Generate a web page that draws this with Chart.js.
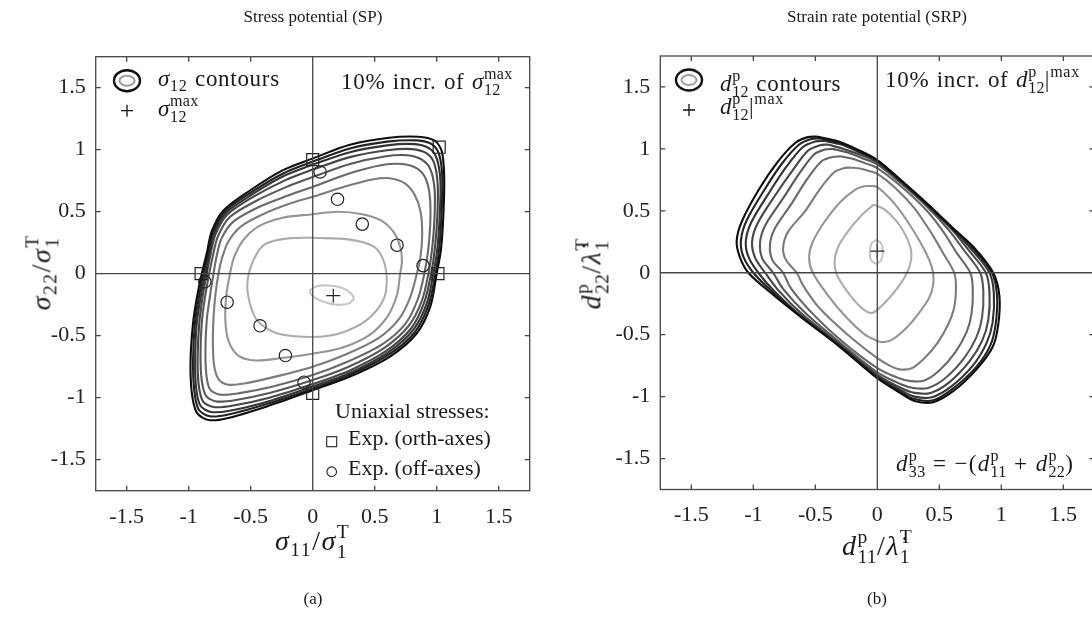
<!DOCTYPE html>
<html>
<head>
<meta charset="utf-8">
<script src="https://cdn.jsdelivr.net/npm/chart.js@4.4.1/dist/chart.umd.min.js"></script>
<style>
body { margin: 0; width: 1092px; height: 621px; overflow: hidden; background: #fff; position: relative;
       font-family: 'Liberation Serif', serif; color: #1a1a1a; }
canvas { position: absolute; top: 0; }
#spChart { left: 0; }
#srpChart { left: 546px; }
.t { position: absolute; white-space: nowrap; font-size: 22px; line-height: 1; }
.w { font-size: 23px; letter-spacing: 0.7px; word-spacing: 1px; }
.wide { letter-spacing: 1.3px; }
.ax { font-size: 28px; letter-spacing: 1.5px; }
.hd { position: absolute; white-space: nowrap; font-size: 17px; line-height: 1; transform: translateX(-50%); }
.c { transform: translateX(-50%); }
.rot { transform: translate(-50%, -50%) rotate(-90deg); }
.ss { display: inline-block; vertical-align: -0.4em; font-size: 0.7em; line-height: 1; letter-spacing: 0.3px; }
.ss span { display: block; }
.sb { font-size: 0.7em; vertical-align: -0.3em; line-height: 0; }
.sp { font-size: 0.7em; vertical-align: 0.6em; line-height: 0; }
.op { margin: 0 0.32em; }
</style>
</head>
<body>
<canvas id="spChart" width="546" height="621"></canvas>
<canvas id="srpChart" width="560" height="621"></canvas>

<div class="hd" style="left:313px;top:8px">Stress potential (SP)</div>
<div class="hd" style="left:877px;top:8px">Strain rate potential (SRP)</div>
<div class="hd" style="left:313px;top:590px">(a)</div>
<div class="hd" style="left:877px;top:590px">(b)</div>

<div class="t w" id="spLeg1" style="left:158px;top:67px"></div>
<div class="t w" id="spLeg2" style="left:158px;top:93px"></div>
<div class="t w" id="spIncr" style="left:341px;top:66px"></div>
<div class="t" style="left:335px;top:400px">Uniaxial stresses:</div>
<div class="t" style="left:348px;top:427px">Exp. (orth-axes)</div>
<div class="t" style="left:348px;top:457px">Exp. (off-axes)</div>
<div class="t ax c" id="spX" style="left:312px;top:522px"></div>
<div class="t ax rot" id="spY" style="left:42px;top:273px"></div>

<div class="t w" id="srpLeg1" style="left:720px;top:68px"></div>
<div class="t w" id="srpLeg2" style="left:720px;top:91px"></div>
<div class="t w" id="srpIncr" style="left:885px;top:64px"></div>
<div class="t w wide" id="srpNote" style="left:896px;top:448px"></div>
<div class="t ax c" id="srpX" style="left:877px;top:527px"></div>
<div class="t ax rot" id="srpY" style="left:592px;top:274px"></div>

<script>
// axis ticks shared by both panels
const tickVals = [-1.5, -1, -0.5, 0, 0.5, 1, 1.5];

// (a) stress potential: sigma12 contours, outer = 0 %, inner = 90 % of max
const spC0 = [[0,0.93],[0.3,1.04],[0.6,1.095],[0.85,1.105],[0.98,1.075],[1.04,0.99],[1.06,0.8],[1.055,0.5],[1.035,0.2],[1.0,0],[0.95,-0.26],[0.84,-0.48],[0.62,-0.67],[0.3,-0.83],[0,-0.94],[-0.37,-1.07],[-0.69,-1.165],[-0.84,-1.18],[-0.935,-1.12],[-0.975,-0.96],[-0.985,-0.7],[-0.965,-0.4],[-0.935,-0.2],[-0.895,0],[-0.855,0.16],[-0.815,0.34],[-0.72,0.51],[-0.5,0.675],[-0.24,0.835],[0,0.93]];
const spC1 = [[0,0.905],[0.3,1.01],[0.6,1.065],[0.84,1.075],[0.96,1.045],[1.02,0.96],[1.045,0.78],[1.04,0.5],[1.02,0.2],[0.99,0],[0.935,-0.25],[0.825,-0.47],[0.61,-0.655],[0.3,-0.815],[0,-0.927],[-0.37,-1.05],[-0.68,-1.135],[-0.83,-1.15],[-0.92,-1.095],[-0.955,-0.94],[-0.965,-0.7],[-0.95,-0.4],[-0.92,-0.2],[-0.882,0],[-0.845,0.16],[-0.805,0.335],[-0.71,0.5],[-0.49,0.66],[-0.235,0.81],[0,0.905]];
const spC2 = [[0,0.88],[0.3,0.98],[0.6,1.035],[0.82,1.045],[0.94,1.01],[1.0,0.93],[1.03,0.75],[1.025,0.48],[1.005,0.2],[0.973,0],[0.92,-0.24],[0.81,-0.455],[0.6,-0.64],[0.3,-0.8],[0,-0.91],[-0.36,-1.03],[-0.67,-1.105],[-0.82,-1.115],[-0.905,-1.065],[-0.94,-0.92],[-0.948,-0.7],[-0.935,-0.4],[-0.905,-0.2],[-0.868,0],[-0.835,0.155],[-0.795,0.325],[-0.7,0.49],[-0.48,0.645],[-0.23,0.79],[0,0.88]];
const spC3 = [[0,0.84],[0.3,0.94],[0.6,0.995],[0.8,1.005],[0.92,0.97],[0.98,0.89],[1.008,0.72],[1.005,0.46],[0.985,0.2],[0.955,0],[0.9,-0.23],[0.795,-0.44],[0.59,-0.625],[0.3,-0.78],[0,-0.89],[-0.35,-1.0],[-0.65,-1.065],[-0.8,-1.075],[-0.885,-1.03],[-0.92,-0.89],[-0.928,-0.68],[-0.915,-0.4],[-0.89,-0.2],[-0.855,0],[-0.825,0.15],[-0.785,0.315],[-0.69,0.475],[-0.47,0.625],[-0.22,0.755],[0,0.84]];
const spC4 = [[0,0.78],[0.3,0.885],[0.58,0.945],[0.76,0.955],[0.88,0.92],[0.95,0.84],[0.983,0.68],[0.982,0.44],[0.963,0.2],[0.933,0],[0.88,-0.22],[0.775,-0.42],[0.575,-0.6],[0.29,-0.75],[0,-0.858],[-0.34,-0.96],[-0.63,-1.02],[-0.78,-1.03],[-0.86,-0.985],[-0.895,-0.86],[-0.905,-0.66],[-0.895,-0.4],[-0.87,-0.2],[-0.835,0],[-0.805,0.145],[-0.765,0.3],[-0.67,0.455],[-0.45,0.59],[-0.21,0.7],[0,0.78]];
const spC5 = [[0,0.7],[0.3,0.81],[0.55,0.875],[0.72,0.885],[0.84,0.85],[0.91,0.77],[0.945,0.62],[0.948,0.4],[0.93,0.18],[0.9,0],[0.85,-0.2],[0.75,-0.4],[0.56,-0.57],[0.28,-0.71],[0,-0.817],[-0.32,-0.91],[-0.6,-0.965],[-0.75,-0.975],[-0.83,-0.93],[-0.858,-0.81],[-0.865,-0.62],[-0.855,-0.38],[-0.83,-0.19],[-0.8,0],[-0.775,0.14],[-0.735,0.285],[-0.64,0.42],[-0.43,0.54],[-0.2,0.63],[0,0.7]];
const spC6 = [[0,0.62],[0.25,0.7],[0.48,0.76],[0.62,0.77],[0.74,0.73],[0.82,0.64],[0.87,0.5],[0.883,0.32],[0.87,0.14],[0.84,0],[0.79,-0.18],[0.7,-0.36],[0.53,-0.52],[0.27,-0.65],[0,-0.75],[-0.3,-0.83],[-0.55,-0.885],[-0.68,-0.895],[-0.76,-0.85],[-0.795,-0.74],[-0.805,-0.56],[-0.8,-0.36],[-0.785,-0.17],[-0.76,0],[-0.73,0.13],[-0.68,0.26],[-0.58,0.38],[-0.4,0.48],[-0.2,0.56],[0,0.62]];
const spC7 = [[0,0.48],[0.2,0.5],[0.4,0.48],[0.55,0.43],[0.65,0.34],[0.705,0.22],[0.72,0.1],[0.705,0],[0.68,-0.17],[0.6,-0.35],[0.45,-0.5],[0.23,-0.6],[0,-0.645],[-0.25,-0.68],[-0.46,-0.7],[-0.6,-0.66],[-0.68,-0.54],[-0.705,-0.36],[-0.695,-0.16],[-0.667,0],[-0.635,0.13],[-0.56,0.27],[-0.44,0.38],[-0.25,0.45],[0,0.48]];
const spC8 = [[0,0.29],[0.3,0.275],[0.49,0.22],[0.57,0.11],[0.597,-0.05],[0.57,-0.21],[0.435,-0.374],[0.22,-0.48],[0,-0.51],[-0.29,-0.48],[-0.45,-0.374],[-0.519,-0.185],[-0.52,-0.02],[-0.45,0.164],[-0.37,0.245],[-0.2,0.285],[0,0.29]];
const spC9 = [[-0.027,-0.14],[0.02,-0.105],[0.12,-0.095],[0.24,-0.115],[0.31,-0.16],[0.33,-0.2],[0.29,-0.24],[0.19,-0.25],[0.07,-0.22],[0,-0.18],[-0.027,-0.14]];
const spOrth = [[0,0.92],[1.02,1.02],[-0.9,0],[1.01,0],[0,-0.965]];
const spOff = [[0.06,0.82],[0.2,0.6],[0.4,0.4],[0.68,0.23],[0.89,0.065],[-0.87,-0.065],[-0.69,-0.23],[-0.425,-0.42],[-0.22,-0.66],[-0.07,-0.875]];
const spMax = [[0.166,-0.177]];

// (b) strain rate potential: d12p contours, outer = 0 %, inner = 90 % of max
const srpC0 = [[-0.49,1.1],[-0.33,1.065],[-0.15,0.99],[0,0.91],[0.2,0.74],[0.4,0.56],[0.6,0.37],[0.774,0.21],[0.935,0],[0.985,-0.19],[0.975,-0.42],[0.93,-0.6],[0.8,-0.78],[0.62,-0.95],[0.45,-1.045],[0.3,-1.035],[0.2,-0.98],[0,-0.852],[-0.3,-0.6],[-0.62,-0.355],[-0.85,-0.17],[-1.04,0],[-1.11,0.13],[-1.134,0.26],[-1.09,0.42],[-0.95,0.68],[-0.8,0.9],[-0.66,1.05],[-0.56,1.095],[-0.49,1.1]];
const srpC1 = [[-0.46,1.085],[-0.31,1.05],[-0.15,0.98],[0,0.905],[0.2,0.735],[0.4,0.555],[0.6,0.365],[0.765,0.205],[0.925,0],[0.965,-0.18],[0.955,-0.41],[0.91,-0.59],[0.79,-0.77],[0.61,-0.935],[0.45,-1.03],[0.3,-1.02],[0.2,-0.97],[0,-0.845],[-0.3,-0.595],[-0.62,-0.35],[-0.84,-0.16],[-1.0,0],[-1.08,0.13],[-1.1,0.26],[-1.055,0.42],[-0.91,0.67],[-0.77,0.88],[-0.63,1.035],[-0.53,1.08],[-0.46,1.085]];
const srpC2 = [[-0.43,1.065],[-0.29,1.035],[-0.14,0.97],[0,0.9],[0.2,0.73],[0.4,0.55],[0.6,0.36],[0.75,0.2],[0.905,0],[0.94,-0.17],[0.93,-0.4],[0.88,-0.57],[0.77,-0.75],[0.6,-0.915],[0.44,-1.005],[0.3,-1.0],[0.2,-0.955],[0,-0.835],[-0.3,-0.59],[-0.62,-0.345],[-0.83,-0.15],[-0.96,0],[-1.04,0.13],[-1.06,0.26],[-1.015,0.41],[-0.87,0.65],[-0.73,0.86],[-0.6,1.015],[-0.5,1.06],[-0.43,1.065]];
const srpC3 = [[-0.4,1.035],[-0.27,1.0],[-0.13,0.95],[0,0.89],[0.2,0.725],[0.4,0.545],[0.6,0.35],[0.73,0.19],[0.875,0],[0.905,-0.16],[0.895,-0.38],[0.845,-0.55],[0.74,-0.72],[0.58,-0.885],[0.43,-0.97],[0.3,-0.97],[0.2,-0.935],[0,-0.825],[-0.3,-0.58],[-0.6,-0.34],[-0.8,-0.14],[-0.905,0],[-0.985,0.12],[-1.01,0.25],[-0.965,0.4],[-0.82,0.63],[-0.68,0.83],[-0.56,0.985],[-0.46,1.03],[-0.4,1.035]];
const srpC4 = [[-0.36,1.0],[-0.24,0.97],[-0.12,0.925],[0,0.875],[0.2,0.715],[0.4,0.535],[0.58,0.34],[0.7,0.18],[0.83,0],[0.855,-0.15],[0.845,-0.36],[0.8,-0.52],[0.7,-0.69],[0.55,-0.85],[0.41,-0.93],[0.29,-0.93],[0.19,-0.9],[0,-0.805],[-0.3,-0.565],[-0.58,-0.325],[-0.76,-0.13],[-0.84,0],[-0.925,0.11],[-0.946,0.24],[-0.905,0.38],[-0.76,0.6],[-0.63,0.8],[-0.51,0.955],[-0.42,0.995],[-0.36,1.0]];
const srpC5 = [[-0.3,0.94],[-0.2,0.92],[-0.1,0.885],[0,0.845],[0.2,0.69],[0.4,0.5],[0.54,0.32],[0.64,0.16],[0.75,0],[0.77,-0.13],[0.76,-0.33],[0.72,-0.48],[0.63,-0.64],[0.5,-0.79],[0.38,-0.87],[0.27,-0.875],[0.17,-0.85],[0,-0.77],[-0.3,-0.54],[-0.55,-0.3],[-0.7,-0.12],[-0.76,0],[-0.845,0.1],[-0.866,0.22],[-0.83,0.35],[-0.69,0.56],[-0.57,0.75],[-0.45,0.9],[-0.36,0.935],[-0.3,0.94]];
const srpC6 = [[-0.22,0.85],[-0.13,0.84],[-0.06,0.82],[0,0.8],[0.15,0.68],[0.3,0.52],[0.43,0.33],[0.53,0.16],[0.62,0],[0.635,-0.12],[0.62,-0.28],[0.57,-0.42],[0.49,-0.56],[0.39,-0.68],[0.28,-0.77],[0.18,-0.78],[0.1,-0.75],[0,-0.69],[-0.25,-0.49],[-0.48,-0.27],[-0.6,-0.1],[-0.65,0],[-0.735,0.1],[-0.76,0.2],[-0.72,0.33],[-0.58,0.5],[-0.46,0.68],[-0.35,0.81],[-0.27,0.845],[-0.22,0.85]];
const srpC7 = [[-0.1,0.7],[-0.04,0.7],[0,0.694],[0.12,0.58],[0.24,0.42],[0.35,0.24],[0.42,0.1],[0.45,0],[0.45,-0.1],[0.42,-0.2],[0.34,-0.32],[0.24,-0.44],[0.12,-0.54],[0.04,-0.56],[0,-0.55],[-0.1,-0.5],[-0.25,-0.36],[-0.4,-0.18],[-0.52,0],[-0.55,0.12],[-0.52,0.25],[-0.42,0.42],[-0.3,0.57],[-0.18,0.67],[-0.1,0.7]];
const srpC8 = [[-0.03,0.55],[0.06,0.51],[0.16,0.41],[0.24,0.28],[0.275,0.16],[0.26,0.05],[0.2,-0.07],[0.1,-0.2],[0,-0.3],[-0.05,-0.325],[-0.12,-0.29],[-0.22,-0.18],[-0.32,-0.03],[-0.345,0.08],[-0.32,0.2],[-0.24,0.33],[-0.13,0.46],[-0.03,0.55]];
const srpC9 = [[-0.01,0.265],[0.03,0.24],[0.045,0.17],[0.03,0.1],[-0.01,0.075],[-0.05,0.1],[-0.06,0.17],[-0.045,0.24],[-0.01,0.265]];
const srpMax = [[0,0.175]];

const greys = ['#0e0e0e','#222222','#343434','#464646','#585858','#6a6a6a','#7c7c7c','#959595','#adadad','#c6c6c6'];

function pts(a) { return a.map(p => ({ x: p[0], y: p[1] })); }

function contourSets(list) {
  return list.map((c, i) => ({
    data: pts(c), showLine: true, fill: false, tension: 0.3,
    borderColor: greys[i], borderWidth: 2.1, borderJoinStyle: 'round',
    pointRadius: 0, pointHoverRadius: 0
  }));
}

function markerSet(data, style, r) {
  return {
    data: pts(data), showLine: false, pointStyle: style, pointRadius: r, pointHoverRadius: r,
    pointBorderColor: '#222', pointBackgroundColor: 'rgba(0,0,0,0)', pointBorderWidth: 1.2
  };
}

// box, inward ticks, zero lines and legend glyphs
const framePlugin = {
  id: 'frame',
  afterDatasetsDraw(chart, args, opts) {
    const { ctx, chartArea: a } = chart;
    const sx = chart.scales.x, sy = chart.scales.y;
    ctx.save();
    ctx.strokeStyle = '#454545';
    ctx.lineWidth = 1.3;
    ctx.beginPath();
    const x0 = sx.getPixelForValue(0), y0 = sy.getPixelForValue(0);
    ctx.moveTo(x0, a.top); ctx.lineTo(x0, a.bottom);
    ctx.moveTo(a.left, y0); ctx.lineTo(a.right, y0);
    for (const v of tickVals) {
      const px = sx.getPixelForValue(v), py = sy.getPixelForValue(v);
      ctx.moveTo(px, a.bottom); ctx.lineTo(px, a.bottom - 5);
      ctx.moveTo(px, a.top); ctx.lineTo(px, a.top + 5);
      ctx.moveTo(a.left, py); ctx.lineTo(a.left + 5, py);
      ctx.moveTo(a.right, py); ctx.lineTo(a.right - 5, py);
    }
    ctx.stroke();
    ctx.strokeRect(a.left, a.top, a.right - a.left, a.bottom - a.top);

    const ix = a.left + opts.iconX, iy = a.top + 24;
    ctx.lineWidth = 2.4; ctx.strokeStyle = '#111';
    ctx.beginPath(); ctx.ellipse(ix, iy, 13, 10.5, 0, 0, 2 * Math.PI); ctx.stroke();
    ctx.lineWidth = 2; ctx.strokeStyle = '#9a9a9a';
    ctx.beginPath(); ctx.ellipse(ix, iy, 7.5, 5, 0, 0, 2 * Math.PI); ctx.stroke();
    ctx.lineWidth = 1.3; ctx.strokeStyle = '#111';
    ctx.beginPath();
    ctx.moveTo(ix - 6, iy + 30); ctx.lineTo(ix + 6, iy + 30);
    ctx.moveTo(ix, iy + 24); ctx.lineTo(ix, iy + 36);
    ctx.stroke();
    if (opts.expKeys) {
      ctx.lineWidth = 1.1; ctx.strokeStyle = '#222';
      ctx.strokeRect(a.left + 231, a.top + 380, 10, 10);
      ctx.beginPath(); ctx.arc(a.left + 236, a.top + 415, 4.8, 0, 2 * Math.PI); ctx.stroke();
    }
    ctx.restore();
  }
};

const tickFont = { family: 'Liberation Serif', size: 22 };

function makeChart(id, contours, markers, pad, yWidth, xHeight, frameOpts) {
  return new Chart(document.getElementById(id), {
    type: 'scatter',
    data: { datasets: markers.concat(contourSets(contours)) },
    options: {
      responsive: false,
      animation: false,
      layout: { padding: pad },
      plugins: { legend: { display: false }, tooltip: { enabled: false }, frame: frameOpts },
      scales: {
        x: {
          type: 'linear', min: -1.75, max: 1.75,
          grid: { display: false, drawTicks: false }, border: { display: false },
          afterBuildTicks: s => { s.ticks = tickVals.map(v => ({ value: v })); },
          afterFit: s => { s.height = xHeight; },
          ticks: { font: tickFont, color: '#222', padding: 13, maxRotation: 0, autoSkip: false, callback: v => String(v) }
        },
        y: {
          type: 'linear', min: -1.75, max: 1.75,
          grid: { display: false, drawTicks: false }, border: { display: false },
          afterBuildTicks: s => { s.ticks = tickVals.map(v => ({ value: v })); },
          afterFit: s => { s.width = yWidth; },
          ticks: { font: tickFont, color: '#222', padding: 10, autoSkip: false, callback: v => String(v) }
        }
      }
    },
    plugins: [framePlugin]
  });
}

makeChart('spChart',
  [spC0, spC1, spC2, spC3, spC4, spC5, spC6, spC7, spC8, spC9],
  [markerSet(spMax, 'cross', 7), markerSet(spOrth, 'rect', 8.5), markerSet(spOff, 'circle', 6.2)],
  { left: 0, top: 56.7, right: 16.3, bottom: 0 }, 95.7, 130.3,
  { iconX: 31.3, expKeys: true });

makeChart('srpChart',
  [srpC0, srpC1, srpC2, srpC3, srpC4, srpC5, srpC6, srpC7, srpC8, srpC9],
  [markerSet(srpMax, 'cross', 7)],
  { left: 0, top: 56, right: 11.7, bottom: 0 }, 114.3, 131.5,
  { iconX: 28.7, expKeys: false });

// math labels
function ss(sup, sub) { return '<span class="ss"><span>' + sup + '</span><span>' + sub + '</span></span>'; }
const sig = '<i>σ</i>', dd = '<i>d</i>', lam = '<i>λ&#775;</i>';
const op = s => '<span class="op">' + s + '</span>';
const set = (id, html) => { document.getElementById(id).innerHTML = html; };
set('spLeg1', sig + '<span class="sb">12</span> contours');
set('spLeg2', sig + ss('max', '12'));
set('spIncr', '10% incr. of ' + sig + ss('max', '12'));
set('spX', sig + '<span class="sb">11</span>/' + sig + ss('T', '1'));
set('spY', sig + '<span class="sb">22</span>/' + sig + ss('T', '1'));
set('srpLeg1', dd + ss('p', '12') + ' contours');
set('srpLeg2', dd + ss('p', '12') + '|<span class="sp">max</span>');
set('srpIncr', '10% incr. of ' + dd + ss('p', '12') + '|<span class="sp">max</span>');
set('srpNote', dd + ss('p', '33') + op('=') + '−(' + dd + ss('p', '11') + op('+') + dd + ss('p', '22') + ')');
set('srpX', dd + ss('p', '11') + '/' + lam + ss('T', '1'));
set('srpY', dd + ss('p', '22') + '/' + lam + ss('T', '1'));
</script>
</body>
</html>
